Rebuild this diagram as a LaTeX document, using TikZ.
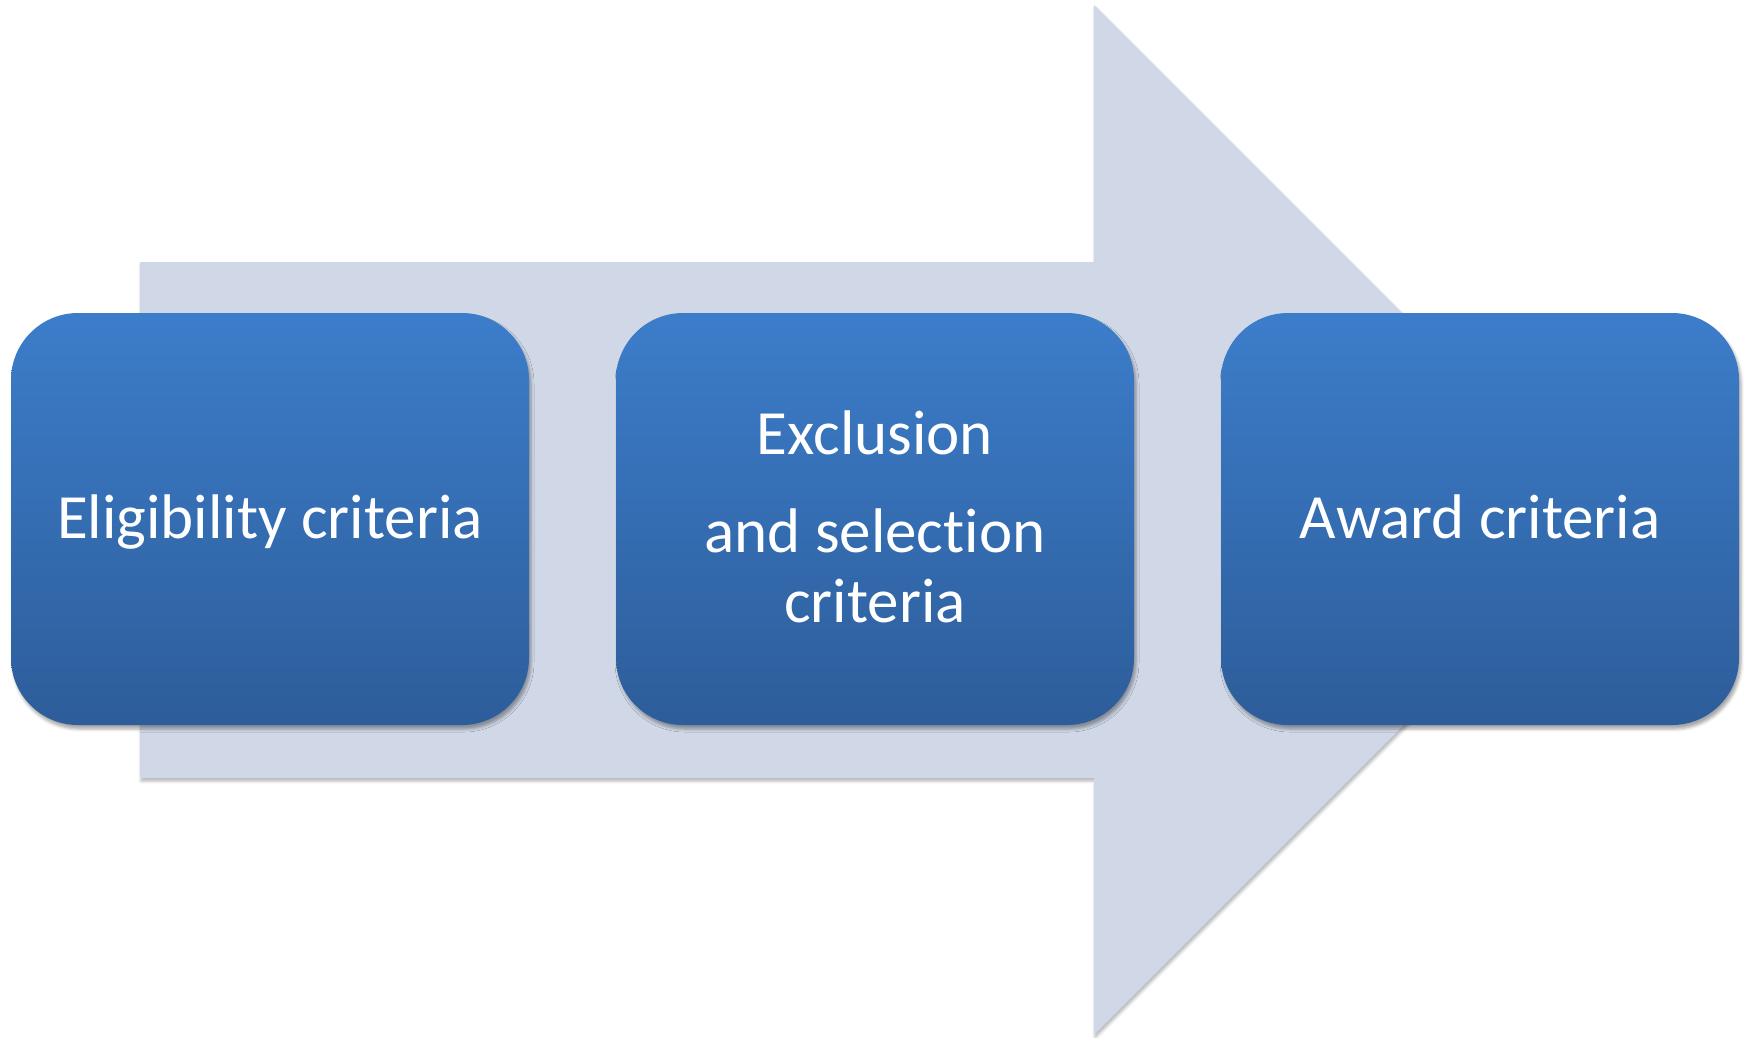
\documentclass[tikz,border=0pt]{standalone}
\usepackage{fontspec}
\setmainfont{Carlito}[Ligatures={NoCommon}]
\usetikzlibrary{shadows.blur}
\definecolor{arrowfill}{HTML}{D0D8E7}
\definecolor{boxtop}{HTML}{3C7DCA}
\definecolor{boxbot}{HTML}{2D5D9A}
\begin{document}
\begin{tikzpicture}[x=1pt,y=-1pt,
  stagebox/.style={rectangle, rounded corners=67pt, minimum width=518pt, minimum height=412pt,
    inner sep=0pt, top color=boxtop, bottom color=boxbot, draw=none,
    blur shadow={shadow xshift=2pt, shadow yshift=-4pt, shadow blur radius=3pt, shadow opacity=35}},
  stagetext/.style={text=white, font=\fontsize{63}{70}\selectfont, align=center, inner sep=0pt, anchor=base}]
\useasboundingbox (0,0) rectangle (1747,1037);
\fill[arrowfill, blur shadow={shadow xshift=1pt, shadow yshift=-3pt, shadow blur radius=3pt, shadow opacity=30}]
  (140,262) -- (1094,262) -- (1094,5) -- (1609,520) -- (1094,1035) -- (1094,778) -- (140,778) -- cycle;
\node[stagebox] (b1) at (270,519) {};
\node[stagebox] (b2) at (875,519) {};
\node[stagebox] (b3) at (1480,519) {};
\node[stagetext] (t1) at (270,538) {Eligibility criteria};
\node[stagetext] (t2) at (875,622) {Exclusion\\[28pt]and selection\\criteria};
\node[stagetext] (t3) at (1480,538) {Award criteria};
\end{tikzpicture}
\end{document}
